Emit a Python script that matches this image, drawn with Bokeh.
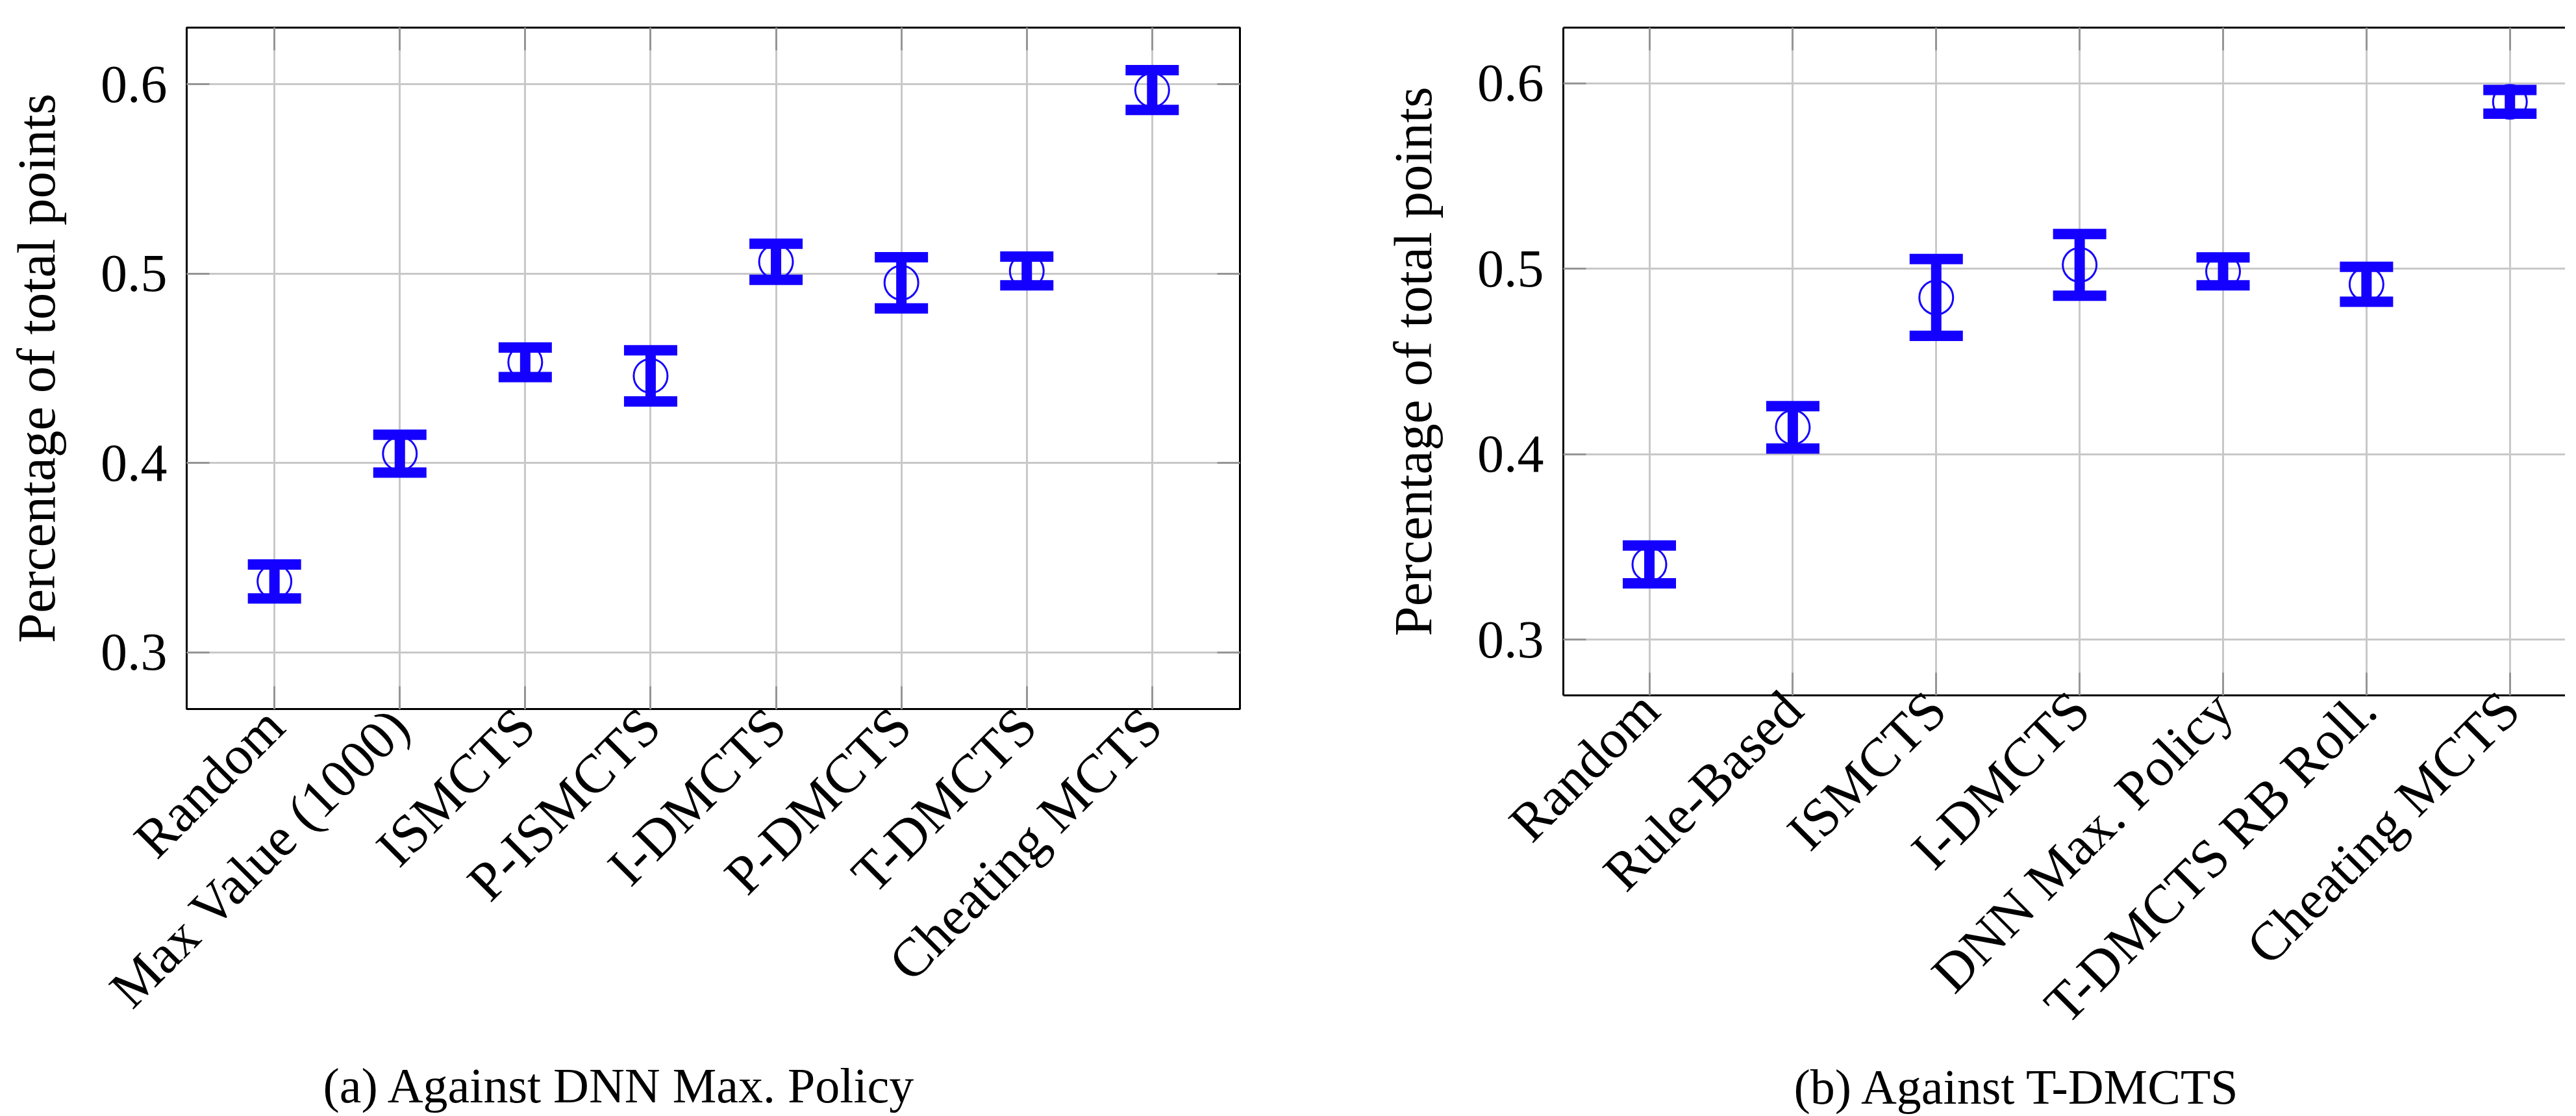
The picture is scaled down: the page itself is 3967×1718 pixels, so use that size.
import math
from bokeh.plotting import figure
from bokeh.models import (Range1d, FixedTicker, LinearAxis, Whisker, TeeHead,
                          ColumnDataSource, Title)
from bokeh.layouts import row
from bokeh.embed import file_html
from bokeh.resources import INLINE

# ---------------- data ----------------
left_labels = ["Random", "Max Value (1000)", "ISMCTS", "P-ISMCTS", "I-DMCTS",
               "P-DMCTS", "T-DMCTS", "Cheating MCTS"]
left_mean = [0.3374, 0.4049, 0.4532, 0.4460, 0.5063, 0.4952, 0.5014, 0.5970]
left_err = [0.0090, 0.0100, 0.0078, 0.0135, 0.0095, 0.0135, 0.0076, 0.0105]

right_labels = ["Random", "Rule-Based", "ISMCTS", "I-DMCTS", "DNN Max. Policy",
                "T-DMCTS RB Roll.", "Cheating MCTS"]
right_mean = [0.3406, 0.4145, 0.4845, 0.5021, 0.4986, 0.4916, 0.5900]
right_err = [0.0102, 0.0114, 0.0207, 0.0166, 0.0075, 0.0094, 0.0064]

y_ticks = [0.3, 0.4, 0.5, 0.6]
y_label = "Percentage of total points"
left_caption = "(a)  Against DNN Max. Policy"
right_caption = "(b)  Against T-DMCTS"

BLUE = "#1400ff"
FONT = "Liberation Serif"
GRID = "#c8c8c8"
TICK = "#959595"


def make(labels, means, errs, caption, x_start, x_end, frame_w, frame_h,
         b_left, b_top, b_right, b_bottom, cap_offset, cap_standoff,
         lab_standoff, boxed):
    n = len(labels)
    xs = list(range(n))
    p = figure(frame_width=frame_w, frame_height=frame_h,
               min_border_left=b_left, min_border_top=b_top,
               min_border_right=b_right, min_border_bottom=b_bottom,
               x_range=Range1d(x_start, x_end), y_range=Range1d(0.27, 0.63),
               output_backend="svg", toolbar_location=None)
    p.background_fill_color = "white"
    p.border_fill_color = "white"
    if boxed:
        p.outline_line_color = "black"
        p.outline_line_width = 3
        line_col = None
    else:
        p.outline_line_color = None
        line_col = "black"

    # grids
    p.xgrid.grid_line_color = GRID
    p.xgrid.grid_line_width = 3
    p.ygrid.grid_line_color = GRID
    p.ygrid.grid_line_width = 3

    # bottom axis
    xa = p.xaxis[0]
    xa.ticker = FixedTicker(ticks=xs)
    xa.major_label_overrides = {i: lab for i, lab in enumerate(labels)}
    xa.major_label_orientation = math.pi / 4
    xa.major_label_text_font = FONT
    xa.major_label_text_font_size = "84px"
    xa.major_label_text_color = "black"
    xa.major_label_standoff = lab_standoff
    xa.major_tick_in = 35
    xa.major_tick_out = 0
    xa.major_tick_line_color = TICK
    xa.major_tick_line_width = 3
    xa.minor_tick_line_color = None
    xa.axis_line_color = line_col
    xa.axis_line_width = 3

    # left axis
    ya = p.yaxis[0]
    ya.ticker = FixedTicker(ticks=y_ticks)
    ya.major_label_text_font = FONT
    ya.major_label_text_font_size = "82px"
    ya.major_label_text_color = "black"
    ya.major_label_standoff = 30
    ya.major_tick_in = 35
    ya.major_tick_out = 0
    ya.major_tick_line_color = TICK
    ya.major_tick_line_width = 3
    ya.minor_tick_line_color = None
    ya.axis_line_color = line_col
    ya.axis_line_width = 3
    ya.axis_label = y_label
    ya.axis_label_text_font = FONT
    ya.axis_label_text_font_size = "83px"
    ya.axis_label_text_font_style = "normal"
    ya.axis_label_text_color = "black"
    ya.axis_label_standoff = 50

    # top axis (ticks only)
    top = LinearAxis(ticker=FixedTicker(ticks=xs),
                     major_label_overrides={i: "" for i in xs},
                     major_tick_in=35, major_tick_out=0,
                     major_tick_line_color=TICK, major_tick_line_width=3,
                     minor_tick_line_color=None, axis_line_color=line_col,
                     axis_line_width=3, major_label_standoff=0)
    p.add_layout(top, "above")
    if boxed:
        rgt = LinearAxis(ticker=FixedTicker(ticks=y_ticks),
                         major_label_overrides={t: "" for t in y_ticks},
                         major_tick_in=35, major_tick_out=0,
                         major_tick_line_color=TICK, major_tick_line_width=3,
                         minor_tick_line_color=None, axis_line_color=None,
                         major_label_standoff=0)
        p.add_layout(rgt, "right")

    # data
    p.scatter(xs, means, marker="circle", size=52, fill_color=None,
              line_color=BLUE, line_width=3)
    src = ColumnDataSource(dict(x=xs,
                                upper=[m + e for m, e in zip(means, errs)],
                                lower=[m - e for m, e in zip(means, errs)]))
    w = Whisker(base="x", upper="upper", lower="lower", source=src,
                line_color=BLUE, line_width=16, level="annotation",
                upper_head=TeeHead(size=82, line_color=BLUE, line_width=16),
                lower_head=TeeHead(size=82, line_color=BLUE, line_width=16))
    p.add_layout(w)

    t = Title(text=caption, align="left", offset=cap_offset,
              text_font=FONT, text_font_size="76px", text_font_style="normal",
              text_color="black", standoff=cap_standoff)
    p.add_layout(t, "below")
    return p


p1 = make(left_labels, left_mean, left_err, left_caption,
          -0.7, 7.7, 1622, 1049, 287, 42, 91, 0, 210, 44, 12, True)
p2 = make(right_labels, right_mean, right_err, right_caption,
          -0.6, 6.386, 1543, 1028, 407, 35, 0, 690, 355, 0, 8, False)

layout = row(p1, p2)
open("out.html", "w").write(file_html(layout, INLINE))
